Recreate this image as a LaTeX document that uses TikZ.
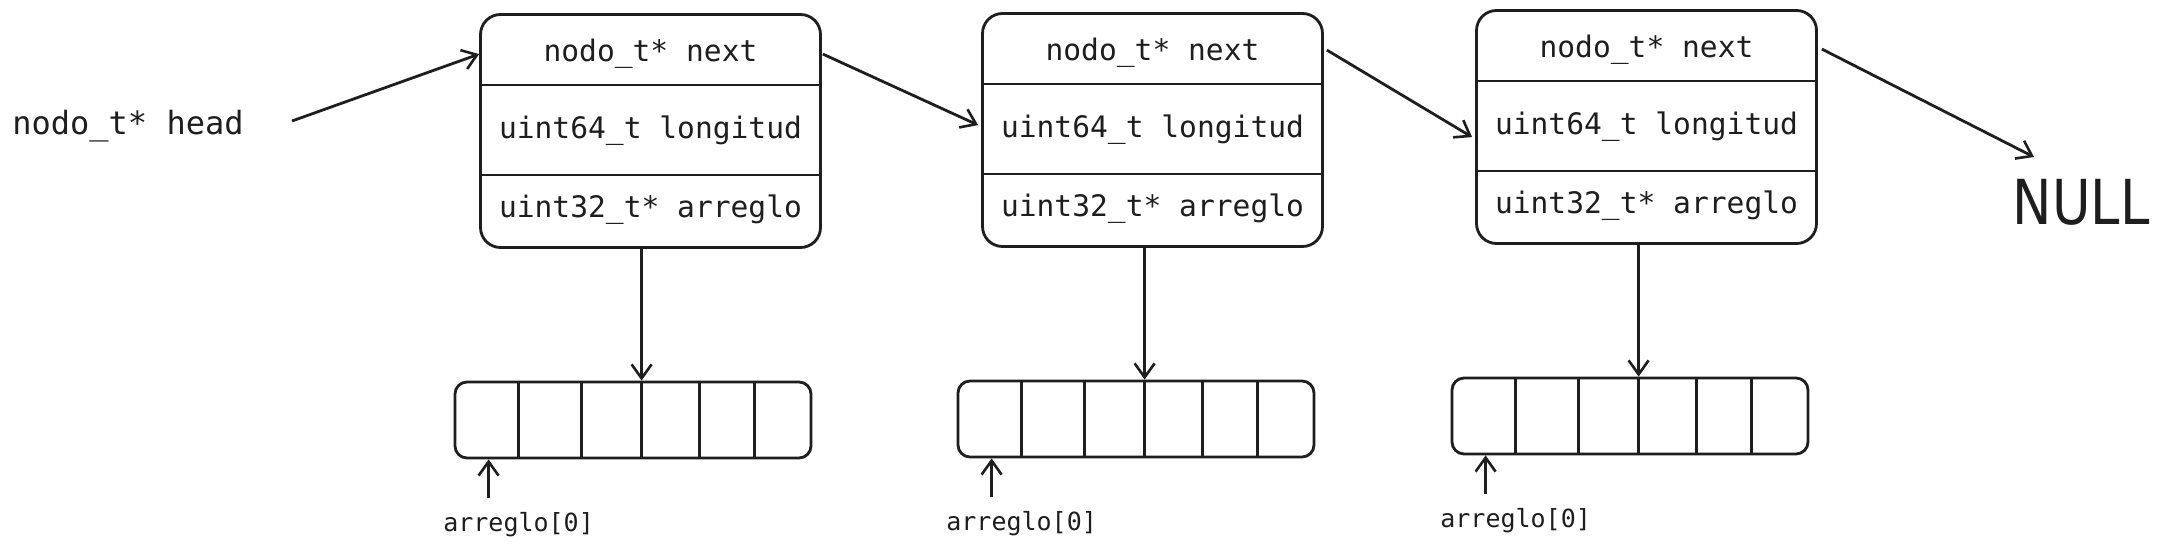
\documentclass[tikz,border=0pt]{standalone}
\usepackage{fontspec}
\usepackage{graphicx}
\setmonofont{DejaVu Sans Mono}
\setsansfont{DejaVu Sans}
\usetikzlibrary{arrows.meta,calc}
\definecolor{ink}{HTML}{1E1E1E}
\tikzset{
  ln/.style={draw=ink, line width=1.4pt},
  arr/.style={draw=ink, line width=1.4pt, -{Straight Barb[length=7pt,width=10pt,line width=1.3pt]}},
  nodebox/.style={draw=ink, line width=1.4pt, rounded corners=10pt, minimum width=170pt, minimum height=116.5pt, inner sep=0pt},
  field/.style={font=\ttfamily\fontsize{14.8}{16}\selectfont, text=ink, inner sep=0pt},
  arraybox/.style={draw=ink, line width=1.4pt, rounded corners=6pt, minimum width=178pt, minimum height=38pt, inner sep=0pt},
  idx/.style={font=\ttfamily\fontsize{12.5}{14}\selectfont, text=ink, inner sep=0pt},
  headlbl/.style={font=\ttfamily\fontsize{16}{18}\selectfont, text=ink, inner sep=0pt},
  nulllbl/.style={font=\sffamily\fontsize{31}{34}\selectfont, text=ink, inner sep=0pt}
}
\begin{document}
\begin{tikzpicture}[x=0.5pt,y=-0.5pt]
\fill[white] (0,0) rectangle (2164,550);
\useasboundingbox (0,0) rectangle (2164,550);

\foreach \i/\x/\y/\ax/\ay in {1/650.5/131/633/420, 2/1152.5/130/1136/419, 3/1646.5/127/1630/416}{
  \node[nodebox] (b\i) at (\x,\y) {};
  \draw[ln] ($(b\i.north west)+(0,72)$) -- ($(b\i.north east)+(0,72)$);
  \draw[ln] ($(b\i.north west)+(0,162)$) -- ($(b\i.north east)+(0,162)$);
  \node[field] (b\i n) at ($(b\i.north)+(0,41)$) {nodo\_t* next};
  \node[field] (b\i l) at ($(b\i.north)+(0,118)$) {uint64\_t longitud};
  \node[field] (b\i a) at ($(b\i.north)+(0,197)$) {uint32\_t* arreglo};
  \node[arraybox] (a\i) at (\ax,\ay) {};
  \foreach \d [count=\k] in {65,128,188,246,301}{
    \draw[ln] ($(a\i.north west)+(\d,0)$) coordinate (a\i-d\k) -- ($(a\i.south west)+(\d,0)$);
  }
  \draw[arr] (b\i.south -| a\i-d3) -- (a\i-d3);
  \node[idx] (l\i) at ($(a\i.south west)+(65,65)$) {arreglo[0]};
  \coordinate (p\i) at ($(a\i.south west)+(35,39)$);
  \draw[arr] (p\i) -- (p\i |- a\i.south);
}

\node[headlbl] (head) at (128,126) {nodo\_t* head};
\coordinate (hs) at ($(head.east)+(48,-5)$);
\draw[arr] (hs) -- ($(b1.north west)+(0,41)$);

\draw[arr] ($(b1.north east)+(1,41)$) -- ($(b2.north west)+(-3,113)$);
\draw[arr] ($(b2.north east)+(3,38)$) -- ($(b3.north west)+(-3,128)$);

\node[nulllbl] (null) at (2081,202) {\scalebox{0.85}[1]{NULL}};
\coordinate (ne) at ($(null)+(-47,-45)$);
\draw[arr] ($(b3.north east)+(4,40)$) -- (ne);
\end{tikzpicture}
\end{document}
